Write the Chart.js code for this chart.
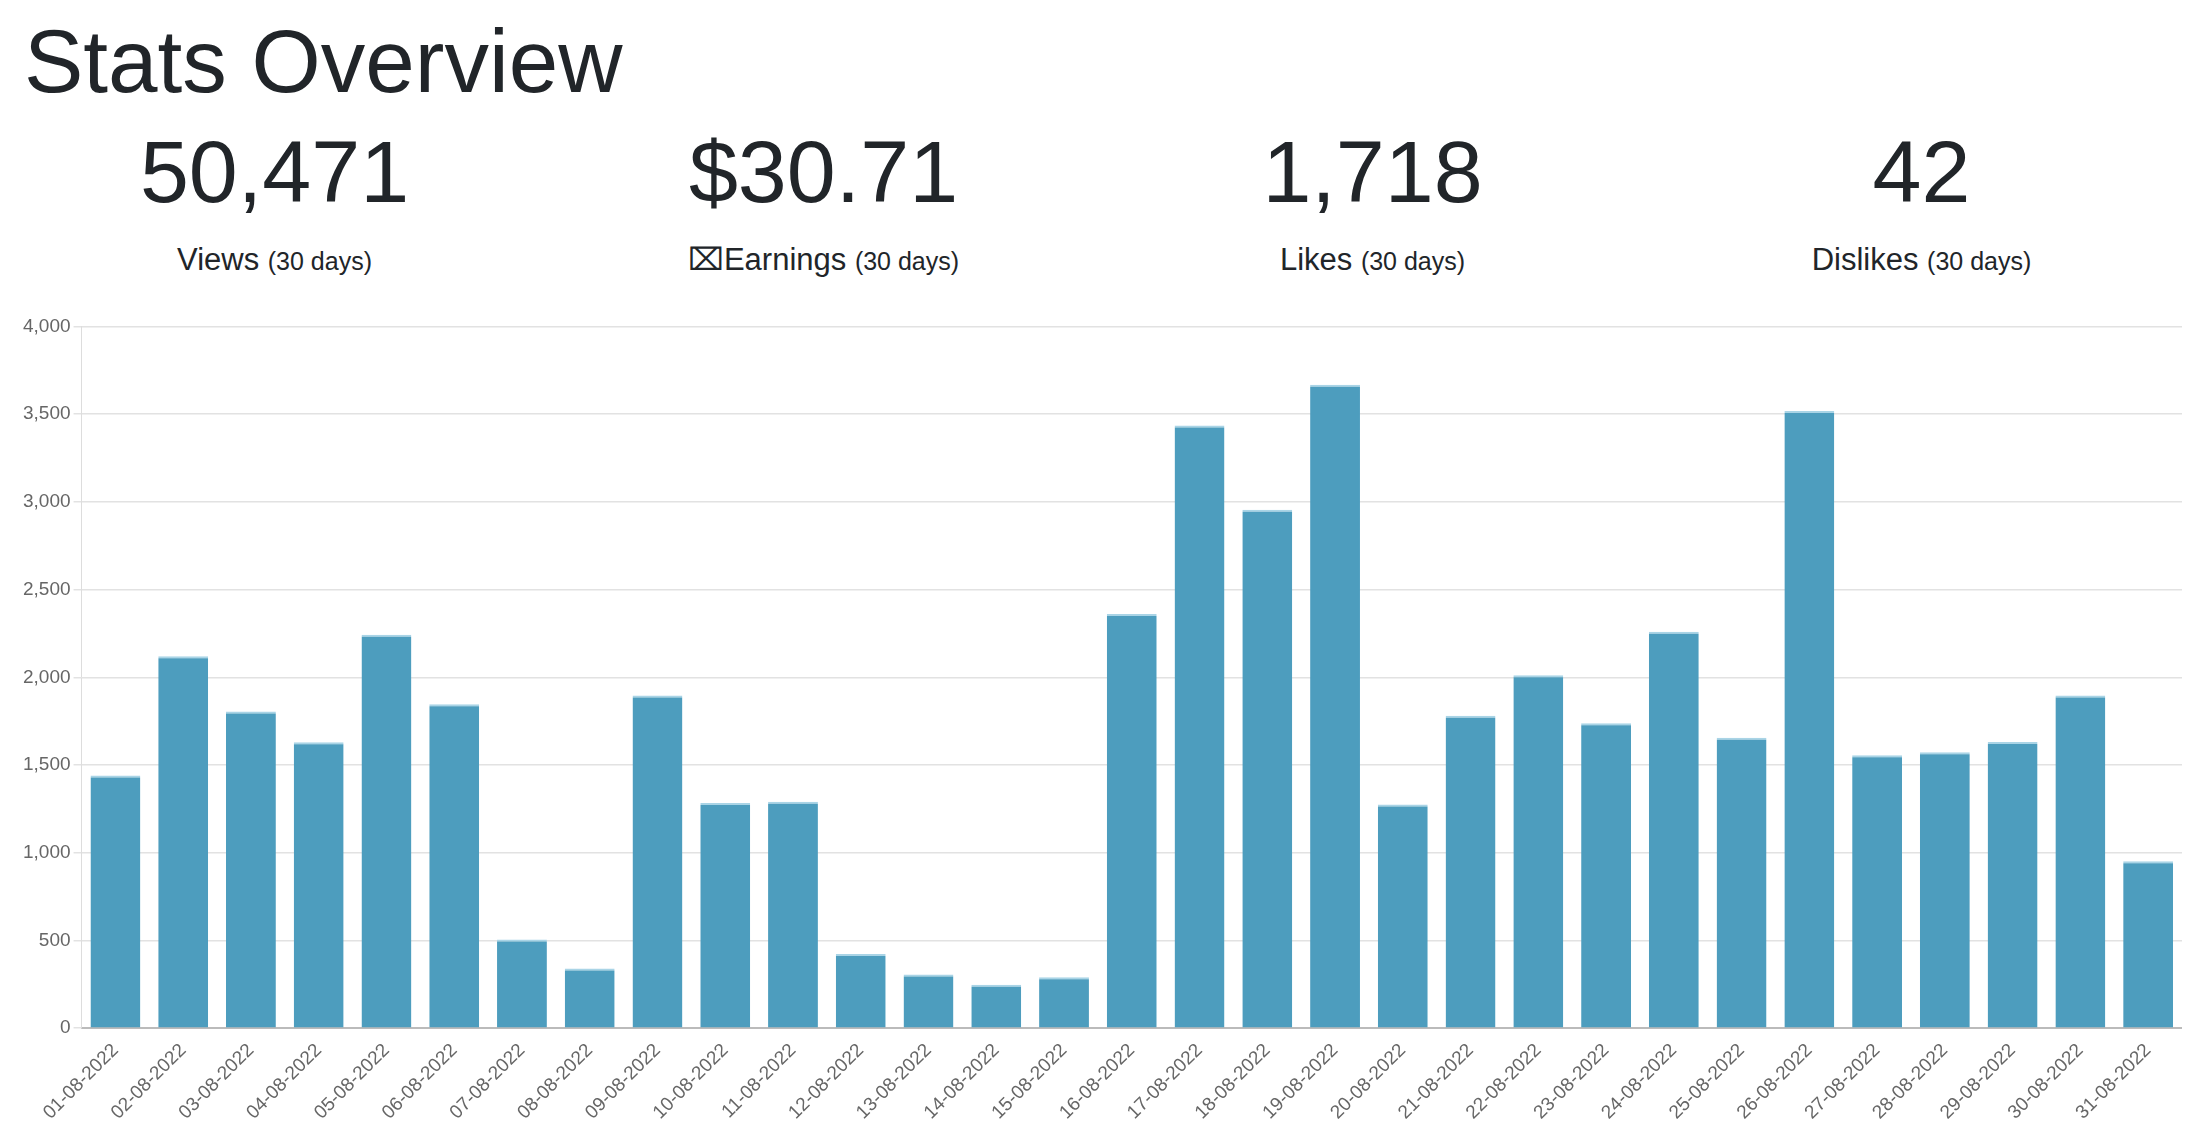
<!DOCTYPE html>
<html>
<head>
<meta charset="utf-8">
<script src="https://cdn.jsdelivr.net/npm/chart.js@4/dist/chart.umd.min.js"></script>
<style>
body{margin:0;width:2196px;height:1130px;background:#fff;font-family:"Liberation Sans",Arial,sans-serif;color:#212529;position:relative;overflow:hidden}
h1{position:absolute;left:24px;top:17px;margin:0;font-size:89px;font-weight:500;line-height:1}
.stats{position:absolute;left:0;top:128px;width:2196px;display:flex}
.stat{flex:1;text-align:center}
.num{font-size:88px;line-height:1;height:116px}
.lbl{font-size:31px;line-height:1}
.lbl small{font-size:25px}
#wrap{position:absolute;left:20px;top:312px;width:2162px;height:815px}
</style>
</head>
<body>
<h1>Stats Overview</h1>
<div class="stats">
  <div class="stat"><div class="num">50,471</div><div class="lbl">Views <small>(30 days)</small></div></div>
  <div class="stat"><div class="num">$30.71</div><div class="lbl">&#x2327;Earnings <small>(30 days)</small></div></div>
  <div class="stat"><div class="num">1,718</div><div class="lbl">Likes <small>(30 days)</small></div></div>
  <div class="stat"><div class="num">42</div><div class="lbl">Dislikes <small>(30 days)</small></div></div>
</div>
<div id="wrap"><canvas id="views_chart"></canvas></div>
<script>
var labels = [];
for (var d = 1; d <= 31; d++) {
    labels.push((d < 10 ? '0' + d : d) + '-08-2022');
}
var views = [1440, 2120, 1805, 1630, 2243, 1846, 505, 340, 1896, 1283,
             1291, 422, 306, 248, 290, 2360, 3435, 2955, 3667, 1275,
             1780, 2012, 1738, 2260, 1656, 3518, 1556, 1573, 1631, 1896, 952];

var ctx = document.getElementById("views_chart").getContext("2d");
var viewsChart = new Chart(ctx, {
    type: 'bar',
    data: {
        labels: labels,
        datasets: [{
            label: 'Views',
            backgroundColor: '#4d9dbe',
            borderColor: '#a9d4e6',
            borderWidth: {top: 2, left: 0, right: 0, bottom: 0},
            borderSkipped: 'bottom',
            barPercentage: 0.92,
            categoryPercentage: 0.8,
            data: views
        }]
    },
    options: {
        responsive: true,
        maintainAspectRatio: false,
        animation: false,
        devicePixelRatio: 1,
        plugins: {legend: {display: false}, tooltip: {enabled: false}},
        scales: {
            x: {
                grid: {display: false},
                border: {color: '#bbb', width: 2},
                ticks: {color: '#666', font: {size: 19, family: 'Liberation Sans'}, maxRotation: 45, minRotation: 45, autoSkip: false}
            },
            y: {
                min: 0, max: 4000,
                ticks: {stepSize: 500, color: '#666', font: {size: 19, family: 'Liberation Sans'}},
                grid: {color: '#e2e2e2', lineWidth: 1.5},
                border: {color: '#ddd'}
            }
        }
    }
});
</script>
</body>
</html>
